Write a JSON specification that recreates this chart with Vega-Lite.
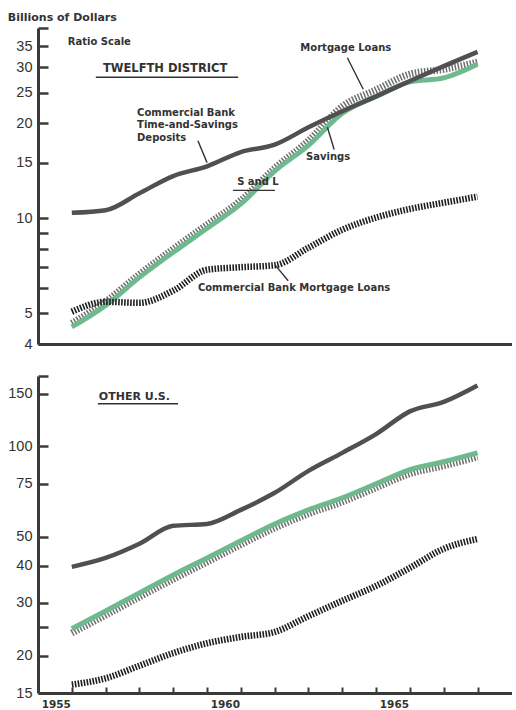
{
  "$schema": "https://vega.github.io/schema/vega-lite/v6.json",
  "background": "white",
  "padding": {"left": 7, "top": 12, "right": 0, "bottom": 2},
  "title": {"text": "Billions of Dollars", "anchor": "start", "frame": "bounds", "font": "DejaVu Sans", "fontSize": 11, "fontWeight": "bold", "color": "#333333", "offset": -3},
  "config": {
    "view": {"stroke": null},
    "axis": {"domainColor": "#3a3a3a", "domainWidth": 3, "tickColor": "#3a3a3a", "tickWidth": 2.5, "grid": false, "title": null, "labelFont": "Liberation Sans", "labelFontSize": 14.5, "labelColor": "#333333", "labelOverlap": false, "labelBound": false, "labelFlush": false}
  },
  "datasets": {
    "twelfth": [
      {"year": 1955, "series": "Commercial Bank Time-and-Savings Deposits", "value": 10.4},
      {"year": 1956, "series": "Commercial Bank Time-and-Savings Deposits", "value": 10.6},
      {"year": 1957, "series": "Commercial Bank Time-and-Savings Deposits", "value": 12.0},
      {"year": 1958, "series": "Commercial Bank Time-and-Savings Deposits", "value": 13.6},
      {"year": 1959, "series": "Commercial Bank Time-and-Savings Deposits", "value": 14.6},
      {"year": 1960, "series": "Commercial Bank Time-and-Savings Deposits", "value": 16.2},
      {"year": 1961, "series": "Commercial Bank Time-and-Savings Deposits", "value": 17.1},
      {"year": 1962, "series": "Commercial Bank Time-and-Savings Deposits", "value": 19.4},
      {"year": 1963, "series": "Commercial Bank Time-and-Savings Deposits", "value": 21.8},
      {"year": 1964, "series": "Commercial Bank Time-and-Savings Deposits", "value": 24.3},
      {"year": 1965, "series": "Commercial Bank Time-and-Savings Deposits", "value": 27.2},
      {"year": 1966, "series": "Commercial Bank Time-and-Savings Deposits", "value": 30.3},
      {"year": 1967, "series": "Commercial Bank Time-and-Savings Deposits", "value": 33.6},
      {"year": 1955, "series": "S and L Savings", "value": 4.53},
      {"year": 1956, "series": "S and L Savings", "value": 5.3},
      {"year": 1957, "series": "S and L Savings", "value": 6.5},
      {"year": 1958, "series": "S and L Savings", "value": 7.8},
      {"year": 1959, "series": "S and L Savings", "value": 9.3},
      {"year": 1960, "series": "S and L Savings", "value": 11.1},
      {"year": 1961, "series": "S and L Savings", "value": 14.1},
      {"year": 1962, "series": "S and L Savings", "value": 17.0},
      {"year": 1963, "series": "S and L Savings", "value": 21.5},
      {"year": 1964, "series": "S and L Savings", "value": 24.3},
      {"year": 1965, "series": "S and L Savings", "value": 27.0},
      {"year": 1966, "series": "S and L Savings", "value": 27.8},
      {"year": 1967, "series": "S and L Savings", "value": 30.7},
      {"year": 1955, "series": "S and L Mortgage Loans", "value": 4.65},
      {"year": 1956, "series": "S and L Mortgage Loans", "value": 5.45},
      {"year": 1957, "series": "S and L Mortgage Loans", "value": 6.65},
      {"year": 1958, "series": "S and L Mortgage Loans", "value": 8.0},
      {"year": 1959, "series": "S and L Mortgage Loans", "value": 9.55},
      {"year": 1960, "series": "S and L Mortgage Loans", "value": 11.4},
      {"year": 1961, "series": "S and L Mortgage Loans", "value": 14.4},
      {"year": 1962, "series": "S and L Mortgage Loans", "value": 17.6},
      {"year": 1963, "series": "S and L Mortgage Loans", "value": 22.6},
      {"year": 1964, "series": "S and L Mortgage Loans", "value": 25.5},
      {"year": 1965, "series": "S and L Mortgage Loans", "value": 28.6},
      {"year": 1966, "series": "S and L Mortgage Loans", "value": 29.6},
      {"year": 1967, "series": "S and L Mortgage Loans", "value": 31.2},
      {"year": 1955, "series": "Commercial Bank Mortgage Loans", "value": 5.06},
      {"year": 1956, "series": "Commercial Bank Mortgage Loans", "value": 5.44},
      {"year": 1957, "series": "Commercial Bank Mortgage Loans", "value": 5.4},
      {"year": 1958, "series": "Commercial Bank Mortgage Loans", "value": 5.9},
      {"year": 1959, "series": "Commercial Bank Mortgage Loans", "value": 6.87},
      {"year": 1960, "series": "Commercial Bank Mortgage Loans", "value": 7.0},
      {"year": 1961, "series": "Commercial Bank Mortgage Loans", "value": 7.1},
      {"year": 1962, "series": "Commercial Bank Mortgage Loans", "value": 8.07},
      {"year": 1963, "series": "Commercial Bank Mortgage Loans", "value": 9.2},
      {"year": 1964, "series": "Commercial Bank Mortgage Loans", "value": 10.05},
      {"year": 1965, "series": "Commercial Bank Mortgage Loans", "value": 10.7},
      {"year": 1966, "series": "Commercial Bank Mortgage Loans", "value": 11.2},
      {"year": 1967, "series": "Commercial Bank Mortgage Loans", "value": 11.7}
    ],
    "other": [
      {"year": 1955, "series": "Commercial Bank Time-and-Savings Deposits", "value": 39.6},
      {"year": 1956, "series": "Commercial Bank Time-and-Savings Deposits", "value": 42.4},
      {"year": 1957, "series": "Commercial Bank Time-and-Savings Deposits", "value": 47.3},
      {"year": 1958, "series": "Commercial Bank Time-and-Savings Deposits", "value": 54.3},
      {"year": 1959, "series": "Commercial Bank Time-and-Savings Deposits", "value": 55.1},
      {"year": 1960, "series": "Commercial Bank Time-and-Savings Deposits", "value": 61.4},
      {"year": 1961, "series": "Commercial Bank Time-and-Savings Deposits", "value": 70.0},
      {"year": 1962, "series": "Commercial Bank Time-and-Savings Deposits", "value": 82.9},
      {"year": 1963, "series": "Commercial Bank Time-and-Savings Deposits", "value": 95.2},
      {"year": 1964, "series": "Commercial Bank Time-and-Savings Deposits", "value": 110},
      {"year": 1965, "series": "Commercial Bank Time-and-Savings Deposits", "value": 131},
      {"year": 1966, "series": "Commercial Bank Time-and-Savings Deposits", "value": 141},
      {"year": 1967, "series": "Commercial Bank Time-and-Savings Deposits", "value": 160},
      {"year": 1955, "series": "S and L Savings", "value": 24.6},
      {"year": 1956, "series": "S and L Savings", "value": 28.2},
      {"year": 1957, "series": "S and L Savings", "value": 32.4},
      {"year": 1958, "series": "S and L Savings", "value": 37.2},
      {"year": 1959, "series": "S and L Savings", "value": 42.4},
      {"year": 1960, "series": "S and L Savings", "value": 48.4},
      {"year": 1961, "series": "S and L Savings", "value": 55.1},
      {"year": 1962, "series": "S and L Savings", "value": 61.4},
      {"year": 1963, "series": "S and L Savings", "value": 67.3},
      {"year": 1964, "series": "S and L Savings", "value": 75.0},
      {"year": 1965, "series": "S and L Savings", "value": 83.6},
      {"year": 1966, "series": "S and L Savings", "value": 88.9},
      {"year": 1967, "series": "S and L Savings", "value": 95.2},
      {"year": 1955, "series": "S and L Mortgage Loans", "value": 23.8},
      {"year": 1956, "series": "S and L Mortgage Loans", "value": 27.3},
      {"year": 1957, "series": "S and L Mortgage Loans", "value": 31.4},
      {"year": 1958, "series": "S and L Mortgage Loans", "value": 36.0},
      {"year": 1959, "series": "S and L Mortgage Loans", "value": 41.1},
      {"year": 1960, "series": "S and L Mortgage Loans", "value": 47.0},
      {"year": 1961, "series": "S and L Mortgage Loans", "value": 53.4},
      {"year": 1962, "series": "S and L Mortgage Loans", "value": 59.6},
      {"year": 1963, "series": "S and L Mortgage Loans", "value": 65.3},
      {"year": 1964, "series": "S and L Mortgage Loans", "value": 72.8},
      {"year": 1965, "series": "S and L Mortgage Loans", "value": 81.1},
      {"year": 1966, "series": "S and L Mortgage Loans", "value": 86.2},
      {"year": 1967, "series": "S and L Mortgage Loans", "value": 92.3},
      {"year": 1955, "series": "Commercial Bank Mortgage Loans", "value": 16.0},
      {"year": 1956, "series": "Commercial Bank Mortgage Loans", "value": 16.8},
      {"year": 1957, "series": "Commercial Bank Mortgage Loans", "value": 18.5},
      {"year": 1958, "series": "Commercial Bank Mortgage Loans", "value": 20.4},
      {"year": 1959, "series": "Commercial Bank Mortgage Loans", "value": 22.0},
      {"year": 1960, "series": "Commercial Bank Mortgage Loans", "value": 23.1},
      {"year": 1961, "series": "Commercial Bank Mortgage Loans", "value": 24.0},
      {"year": 1962, "series": "Commercial Bank Mortgage Loans", "value": 27.1},
      {"year": 1963, "series": "Commercial Bank Mortgage Loans", "value": 30.5},
      {"year": 1964, "series": "Commercial Bank Mortgage Loans", "value": 34.2},
      {"year": 1965, "series": "Commercial Bank Mortgage Loans", "value": 39.3},
      {"year": 1966, "series": "Commercial Bank Mortgage Loans", "value": 45.5},
      {"year": 1967, "series": "Commercial Bank Mortgage Loans", "value": 49.1}
    ]
  },
  "spacing": 17,
  "vconcat": [
    {
      "width": 474,
      "height": 316,
      "encoding": {
        "x": {"field": "year", "type": "quantitative", "scale": {"domain": [1954, 1968.02], "nice": false, "zero": false},
              "axis": {"labels": false, "ticks": false}},
        "y": {"field": "value", "type": "quantitative", "scale": {"type": "log", "domain": [4, 40], "nice": false},
              "axis": {"values": [4, 5, 6, 7, 8, 9, 10, 15, 20, 25, 30, 35, 40], "tickSize": -10, "labelPadding": 16,
                       "labelExpr": "(datum.value == 4 || (datum.value % 5 == 0 && datum.value < 40)) ? format(datum.value, 'd') : ''"}}
      },
      "layer": [
        {"data": {"name": "twelfth"}, "transform": [{"filter": "datum.series == 'S and L Mortgage Loans'"}],
         "mark": {"type": "line", "color": "#6e6e6e", "strokeWidth": 7, "strokeDash": [1.5, 1.6], "interpolate": "monotone"}},
        {"data": {"name": "twelfth"}, "transform": [{"filter": "datum.series == 'S and L Savings'"}],
         "mark": {"type": "line", "color": "#6fb98f", "strokeWidth": 5, "interpolate": "monotone"}},
        {"data": {"name": "twelfth"}, "transform": [{"filter": "datum.series == 'Commercial Bank Time-and-Savings Deposits'"}],
         "mark": {"type": "line", "color": "#505052", "strokeWidth": 4.5, "interpolate": "monotone"}},
        {"data": {"name": "twelfth"}, "transform": [{"filter": "datum.series == 'Commercial Bank Mortgage Loans'"}],
         "mark": {"type": "line", "color": "#1f1f1f", "strokeWidth": 6.5, "strokeDash": [1.6, 1.4], "interpolate": "monotone"}},
        {"data": {"values": [
           {"year": 1955.71, "year2": 1959.92, "value": 27.95, "value2": 27.95},
           {"year": 1958.73, "year2": 1959.0, "value": 17.6, "value2": 15.0},
           {"year": 1963.15, "year2": 1963.62, "value": 32.2, "value2": 25.6},
           {"year": 1962.56, "year2": 1962.76, "value": 19.4, "value2": 16.5},
           {"year": 1959.77, "year2": 1961.01, "value": 12.25, "value2": 12.25},
           {"year": 1961.01, "year2": 1961.4, "value": 7.12, "value2": 6.34}
         ]},
         "mark": {"type": "rule", "color": "#333333", "strokeWidth": 1.4},
         "encoding": {"x2": {"field": "year2"}, "y2": {"field": "value2"}}},
        {"data": {"values": [
           {"year": 1954.88, "value": 36.1, "label": "Ratio Scale"},
           {"year": 1956.93, "value": 21.6, "label": "Commercial Bank"},
           {"year": 1956.93, "value": 19.7, "label": "Time-and-Savings"},
           {"year": 1956.93, "value": 17.9, "label": "Deposits"},
           {"year": 1961.76, "value": 34.6, "label": "Mortgage Loans"},
           {"year": 1961.93, "value": 15.6, "label": "Savings"},
           {"year": 1959.89, "value": 13.0, "label": "S and L"},
           {"year": 1958.73, "value": 6.02, "label": "Commercial Bank Mortgage Loans"}
         ]},
         "mark": {"type": "text", "align": "left", "baseline": "middle", "font": "DejaVu Sans", "fontWeight": "bold", "fontSize": 10, "color": "#333333"},
         "encoding": {"text": {"field": "label"}}},
        {"data": {"values": [{"year": 1955.92, "value": 29.6, "label": "TWELFTH DISTRICT"}]},
         "mark": {"type": "text", "align": "left", "baseline": "middle", "font": "DejaVu Sans", "fontWeight": "bold", "fontSize": 11.5, "color": "#333333"},
         "encoding": {"text": {"field": "label"}}}
      ]
    },
    {
      "width": 474,
      "height": 317,
      "encoding": {
        "x": {"field": "year", "type": "quantitative", "scale": {"domain": [1954, 1968.02], "nice": false, "zero": false},
              "axis": {"values": [1955, 1956, 1957, 1958, 1959, 1960, 1961, 1962, 1963, 1964, 1965, 1966, 1967],
                       "labelExpr": "(datum.value == 1955 || datum.value == 1960 || datum.value == 1965) ? format(datum.value, 'd') : ''",
                       "tickSize": -6, "tickWidth": 2, "labelOffset": -16, "labelPadding": 12, "labelFont": "DejaVu Sans", "labelFontSize": 10.5, "labelFontWeight": "bold"}},
        "y": {"field": "value", "type": "quantitative", "scale": {"type": "log", "domain": [15, 172], "nice": false},
              "axis": {"values": [15, 20, 25, 30, 40, 50, 75, 100, 150, 172], "tickSize": -10, "labelPadding": 16,
                       "labelExpr": "(datum.value == 25 || datum.value == 172) ? '' : format(datum.value, 'd')"}}
      },
      "layer": [
        {"data": {"name": "other"}, "transform": [{"filter": "datum.series == 'S and L Mortgage Loans'"}],
         "mark": {"type": "line", "color": "#6e6e6e", "strokeWidth": 7, "strokeDash": [1.5, 1.6], "interpolate": "monotone"}},
        {"data": {"name": "other"}, "transform": [{"filter": "datum.series == 'S and L Savings'"}],
         "mark": {"type": "line", "color": "#6fb98f", "strokeWidth": 5, "interpolate": "monotone"}},
        {"data": {"name": "other"}, "transform": [{"filter": "datum.series == 'Commercial Bank Time-and-Savings Deposits'"}],
         "mark": {"type": "line", "color": "#505052", "strokeWidth": 4.5, "interpolate": "monotone"}},
        {"data": {"name": "other"}, "transform": [{"filter": "datum.series == 'Commercial Bank Mortgage Loans'"}],
         "mark": {"type": "line", "color": "#1f1f1f", "strokeWidth": 6.5, "strokeDash": [1.6, 1.4], "interpolate": "monotone"}},
        {"data": {"values": [{"year": 1955.77, "year2": 1958.14, "value": 138.9, "value2": 138.9}]},
         "mark": {"type": "rule", "color": "#333333", "strokeWidth": 1.4},
         "encoding": {"x2": {"field": "year2"}, "y2": {"field": "value2"}}},
        {"data": {"values": [{"year": 1955.8, "value": 146.6, "label": "OTHER U.S."}]},
         "mark": {"type": "text", "align": "left", "baseline": "middle", "font": "DejaVu Sans", "fontWeight": "bold", "fontSize": 11, "color": "#333333"},
         "encoding": {"text": {"field": "label"}}}
      ]
    }
  ]
}
